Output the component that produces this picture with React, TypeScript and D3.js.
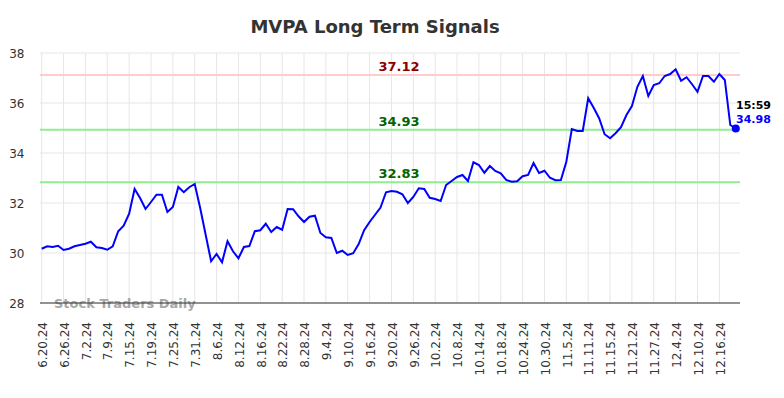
import React from "react";
import * as d3 from "d3";

const dates: string[] = [
  "6.20.24","6.21.24","6.24.24","6.25.24","6.26.24","6.27.24","6.28.24",
  "7.1.24","7.2.24","7.3.24","7.5.24","7.8.24","7.9.24","7.10.24","7.11.24","7.12.24","7.15.24","7.16.24","7.17.24","7.18.24","7.19.24","7.22.24","7.23.24","7.24.24","7.25.24","7.26.24","7.29.24","7.30.24","7.31.24",
  "8.1.24","8.2.24","8.5.24","8.6.24","8.7.24","8.8.24","8.9.24","8.12.24","8.13.24","8.14.24","8.15.24","8.16.24","8.19.24","8.20.24","8.21.24","8.22.24","8.23.24","8.26.24","8.27.24","8.28.24","8.29.24","8.30.24",
  "9.3.24","9.4.24","9.5.24","9.6.24","9.9.24","9.10.24","9.11.24","9.12.24","9.13.24","9.16.24","9.17.24","9.18.24","9.19.24","9.20.24","9.23.24","9.24.24","9.25.24","9.26.24","9.27.24","9.30.24",
  "10.1.24","10.2.24","10.3.24","10.4.24","10.7.24","10.8.24","10.9.24","10.10.24","10.11.24","10.14.24","10.15.24","10.16.24","10.17.24","10.18.24","10.21.24","10.22.24","10.23.24","10.24.24","10.25.24","10.28.24","10.29.24","10.30.24","10.31.24",
  "11.1.24","11.4.24","11.5.24","11.6.24","11.7.24","11.8.24","11.11.24","11.12.24","11.13.24","11.14.24","11.15.24","11.18.24","11.19.24","11.20.24","11.21.24","11.22.24","11.25.24","11.26.24","11.27.24","11.29.24",
  "12.2.24","12.3.24","12.4.24","12.5.24","12.6.24","12.9.24","12.10.24","12.11.24","12.12.24","12.13.24","12.16.24","12.17.24","12.18.24","12.19.24"
];

const prices: number[] = [
  30.17, 30.27, 30.24, 30.29, 30.12, 30.17, 30.27, 30.32, 30.37, 30.45,
  30.23, 30.2, 30.13, 30.27, 30.87, 31.09, 31.57, 32.56, 32.2, 31.76,
  32.04, 32.33, 32.33, 31.64, 31.84, 32.64, 32.43, 32.63, 32.76, 31.8,
  30.73, 29.67, 29.96, 29.63, 30.47, 30.07, 29.79, 30.24, 30.28, 30.87,
  30.91, 31.17, 30.84, 31.04, 30.93, 31.76, 31.75, 31.47, 31.24, 31.45,
  31.49, 30.8, 30.63, 30.6, 30.0, 30.09, 29.92, 29.99, 30.36, 30.91,
  31.24, 31.53, 31.82, 32.43, 32.48, 32.45, 32.35, 32.0, 32.24, 32.59,
  32.56, 32.21, 32.16, 32.08, 32.72, 32.88, 33.04, 33.12, 32.88, 33.63,
  33.52, 33.21, 33.48, 33.28, 33.19, 32.92, 32.85, 32.87, 33.07, 33.12,
  33.6, 33.2, 33.29, 33.01, 32.91, 32.92, 33.65, 34.96, 34.88, 34.88,
  36.19, 35.81, 35.39, 34.75, 34.59, 34.79, 35.03, 35.52, 35.88, 36.65,
  37.08, 36.28, 36.72, 36.79, 37.08, 37.16, 37.35, 36.89, 37.03, 36.75,
  36.45, 37.08, 37.08, 36.85, 37.16, 36.92, 35.12, 34.98
];

const yTicks: number[] = [28, 30, 32, 34, 36, 38];
const tickEvery = 4;

const redLevels: number[] = [37.12];
const greenLevels: number[] = [34.93, 32.83];

const title = "MVPA Long Term Signals";
const lastTime = "15:59";
const watermark = "Stock Traders Daily";

export default function App() {
  const W = 784;
  const H = 398;
  const left = 40;
  const right = 740;
  const top = 53;
  const bottom = 303;

  const x = d3
    .scaleLinear()
    .domain([0, 127])
    .range([41.7, 41.7 + 5.465 * 127]);
  const y = d3.scaleLinear().domain([28, 38]).range([bottom, top]);

  const line = d3
    .line<number>()
    .x((_, i) => x(i))
    .y((d) => y(d));

  const tickIdx = dates.map((_, i) => i).filter((i) => i % tickEvery === 0);
  const lastI = prices.length - 1;
  const lastV = prices[lastI];
  const font = "'DejaVu Sans', sans-serif";
  const labelX = 399;

  return (
    <svg
      width={W}
      height={H}
      style={{ position: "absolute", left: 0, top: 0, background: "#fff" }}
      fontFamily={font}
    >
      <rect x={0} y={0} width={W} height={H} fill="#fff" />
      <text
        x={375}
        y={33}
        textAnchor="middle"
        fontSize={18}
        fontWeight="bold"
        fill="#333"
      >
        {title}
      </text>
      {/* grid */}
      {yTicks.map((t) => (
        <line
          key={"gy" + t}
          x1={left}
          x2={right}
          y1={y(t)}
          y2={y(t)}
          stroke="#e6e6e6"
          strokeWidth={1}
        />
      ))}
      {tickIdx.map((i) => (
        <line
          key={"gx" + i}
          x1={x(i)}
          x2={x(i)}
          y1={top}
          y2={bottom}
          stroke="#e6e6e6"
          strokeWidth={1}
        />
      ))}
      {/* levels */}
      {redLevels.map((v) => (
        <g key={"r" + v}>
          <line x1={left} x2={right} y1={y(v)} y2={y(v)} stroke="#ffcccc" strokeWidth={2} />
          <text x={labelX} y={y(v) - 4} textAnchor="middle" fontSize={13} fontWeight="bold" fill="#8b0000">
            {v.toFixed(2)}
          </text>
        </g>
      ))}
      {greenLevels.map((v) => (
        <g key={"g" + v}>
          <line x1={left} x2={right} y1={y(v)} y2={y(v)} stroke="#90ee90" strokeWidth={2} />
          <text x={labelX} y={y(v) - 4} textAnchor="middle" fontSize={13} fontWeight="bold" fill="#006400">
            {v.toFixed(2)}
          </text>
        </g>
      ))}
      {/* y labels */}
      {yTicks.map((t) => (
        <text key={"yl" + t} x={24.5} y={y(t) + 1} dy="0.35em" textAnchor="end" fontSize={12} fill="#333">
          {t}
        </text>
      ))}
      {/* watermark */}
      <text x={54} y={308} fontSize={13} fontWeight="bold" fill="#999" opacity={0.85}>
        {watermark}
      </text>
      {/* axis line */}
      <line x1={left} x2={right} y1={bottom} y2={bottom} stroke="#333" strokeWidth={1} />
      {/* x labels */}
      {tickIdx.map((i) => (
        <text
          key={"xl" + i}
          transform={`translate(${x(i) + 1},322) rotate(-90)`}
          dy="0.35em"
          textAnchor="end"
          fontSize={12}
          fill="#333"
        >
          {dates[i]}
        </text>
      ))}
      {/* price line */}
      <path d={line(prices) || ""} fill="none" stroke="#0000ff" strokeWidth={2} />
      <circle cx={x(lastI)} cy={y(lastV)} r={4} fill="#0000ff" />
      <text x={736} y={109} fontSize={11} fontWeight="bold" fill="#000">
        {lastTime}
      </text>
      <text x={736} y={123} fontSize={11} fontWeight="bold" fill="#0000ff">
        {lastV.toFixed(2)}
      </text>
    </svg>
  );
}
